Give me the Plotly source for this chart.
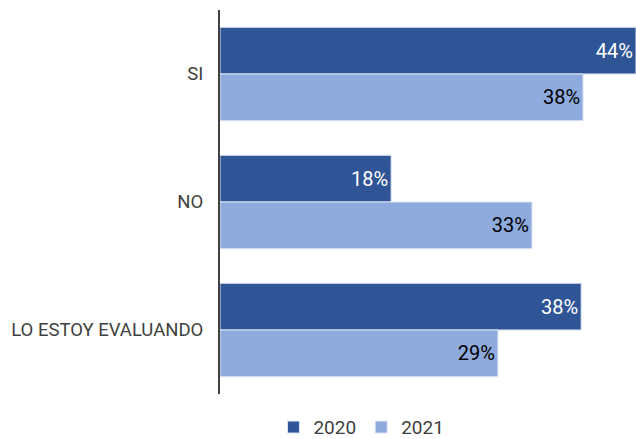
import plotly.graph_objects as go

# data
categories = ['SI', 'NO', 'LO ESTOY EVALUANDO']
values_2020 = [44.0, 18.1, 38.2]
values_2021 = [38.4, 33.0, 29.4]

dark_blue = '#2F5597'
light_blue = '#8FAADC'

fig = go.Figure()
fig.add_trace(go.Bar(
    y=categories, x=values_2020, name='2020', orientation='h',
    marker=dict(color=dark_blue, line=dict(color='#DDE6F5', width=1)),
    texttemplate='%{x:.0f}%', textposition='inside', insidetextanchor='end',
    textfont=dict(color='white', size=20),
))
fig.add_trace(go.Bar(
    y=categories, x=values_2021, name='2021', orientation='h',
    marker=dict(color=light_blue, line=dict(color='#DDE6F5', width=1)),
    texttemplate='%{x:.0f}%', textposition='inside', insidetextanchor='end',
    textfont=dict(color='black', size=20),
))

fig.update_layout(
    width=636, height=439,
    margin=dict(l=220, r=0, t=10, b=45, autoexpand=False),
    barmode='group', bargap=0.27, bargroupgap=0,
    plot_bgcolor='white', paper_bgcolor='white',
    font=dict(family='Roboto', color='#404040'),
    showlegend=True,
    legend=dict(orientation='h', x=0.34, xanchor='center', y=-0.037, yanchor='top',
                font=dict(size=19, color='#404040'), itemwidth=30),
    uniformtext=dict(minsize=10, mode='show'),
)
fig.update_xaxes(range=[0, 44.0], visible=False)
fig.update_yaxes(autorange='reversed', showline=True, linecolor='#404040', linewidth=2,
                 ticks='', ticklabelstandoff=11, tickfont=dict(size=18.5, color='#404040'))

# drop the default body margin so the figure sits at the page corner
fig.write_html('out.html', config={'displayModeBar': False},
               post_script="document.body.style.margin='0';")
